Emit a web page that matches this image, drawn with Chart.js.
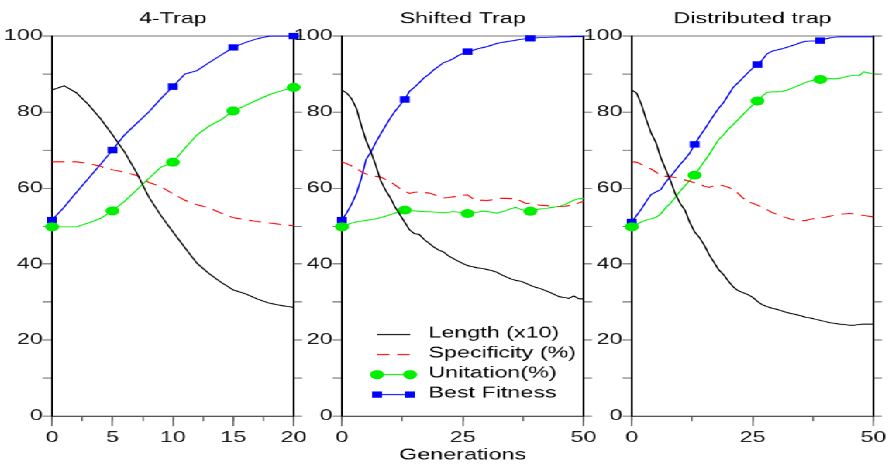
<!DOCTYPE html>
<html>
<head>
<meta charset="utf-8">
<script src="https://cdn.jsdelivr.net/npm/chart.js@4.4.0/dist/chart.umd.min.js"></script>
<style>
  body { margin: 0; background: #fff; }
  /* the original figure is stretched sideways, so the whole page is too */
  #page { position: relative; width: 574px; height: 464px; transform: scaleX(1.55); transform-origin: 0 0; }
  #page canvas { position: absolute; top: 0; }
</style>
</head>
<body>
<div id="page">
  <canvas id="trap4" width="205" height="464" style="left:0px"></canvas>
  <canvas id="shifted" width="205" height="464" style="left:187.1px"></canvas>
  <canvas id="distributed" width="205" height="464" style="left:373.6px"></canvas>
</div>
<script>
var seriesLabels = ['Length (x10)', 'Specificity (%)', 'Unitation(%)', 'Best Fitness'];
var yTicks = [0, 20, 40, 60, 80, 100];

// 4-Trap, 20 generations
var gens4 = [0,1,2,3,4,5,6,7,8,9,10,11,12,13,14,15,16,17,18,19,20];
var len4  = [85.8,86.9,85.1,82,78.3,74,69.5,64,57.7,52.8,48.5,44.3,40.2,37.5,35.2,33.2,32.2,30.8,29.7,29.1,28.6];
var spec4 = [66.9,66.9,66.9,66.5,65.7,64.8,64.2,63.3,61.5,60.4,58.5,56.8,55.6,54.8,53.4,52.2,51.7,51.2,50.8,50.4,50.1];
var unit4 = [49.8,49.8,49.8,50.8,52,54,56.5,59.5,62.5,65.5,66.8,70.5,74,76.3,78,80.3,81.7,83.2,84.6,85.6,86.5];
var best4 = [51.6,55,58.8,62.5,66.2,70,74,77,80,83.5,86.7,90,90.9,93,95,97,98.3,99.3,100,100,100];

// Shifted Trap and Distributed trap, 50 generations
var gens50 = [0,1,2,3,4,5,6,7,8,9,10,11,12,13,14,15,16,17,18,19,20,21,22,23,24,25,
  26,27,28,29,30,31,32,33,34,35,36,37,38,39,40,41,42,43,44,45,46,47,48,49,50];

var lenShift  = [85.8,85,83.5,81,76.5,72.5,69.5,66,62,59.5,57.5,55,53,51,49,48,47.8,46.5,45.5,44.5,43.7,43.2,42.2,41.5,40.8,40.2,
  39.6,39.3,39,38.9,38.6,38.3,37.9,37.2,36.6,36.1,35.7,35.5,35,34.4,33.9,33.6,33.1,32.6,32,31.4,31.2,31,31.6,30.9,30.8];
var specShift = [66.9,66.4,65.8,65.2,64.3,63.7,63.4,63.1,62.9,62.3,61.7,60.8,59.9,59.2,58.6,58.9,59,58.8,58.7,58.3,57.8,57.4,57.5,57.7,57.8,58.1,
  58.2,57.3,56.8,56.8,56.7,56.9,57.1,57.3,57.3,57.2,57.3,56.6,56,55.9,55.7,55.5,55.4,55.3,55.2,55.1,55.2,55.4,55.6,56.1,56.5];
var unitShift = [49.8,50.3,50.8,51.1,51.3,51.5,51.7,51.9,52.2,52.6,53,53.4,53.9,54.2,54.1,54,53.9,53.8,53.8,53.7,53.6,53.5,53.6,53.8,53.7,53.5,
  53.3,53.5,53.6,53.9,53.9,53.6,53.4,53.7,54.1,54.6,54.9,54.4,54.1,53.9,54.2,54.5,54.6,54.8,55,55.1,55.6,56.2,56.8,57.2,57.3];
var bestShift = [51.6,53.5,55.8,58.5,62.5,67.5,69.5,72,74.2,76.3,78.4,80.2,81.8,83.3,85.5,86.5,87.7,89,89.9,91.1,92,93,93.4,94,94.8,95.4,
  95.9,96.2,96.6,96.9,97.2,97.6,98,98.3,98.5,98.7,98.9,99.1,99.3,99.4,99.5,99.6,99.6,99.7,99.7,99.8,99.8,99.8,99.9,99.9,99.9];

var lenDist  = [85.8,85,82,78,74.5,72,68,65,62,58.5,56,54.2,51,48.5,47,45,42.5,40.5,38.5,37.2,35.5,34,33,32.5,32,31.3,
  30.2,29.3,28.8,28.4,28.1,27.7,27.3,27,26.7,26.4,26,25.8,25.5,25.2,24.9,24.6,24.4,24.2,24.1,23.9,23.9,24.1,24.2,24.2,24.2];
var specDist = [66.9,66.8,66.2,65.6,65,64.2,63.4,63.1,63,62.8,62.4,62.1,61.8,61.4,61,60.5,60.2,60.6,60.8,60.6,60.2,59.6,58.6,57.4,56.4,56,
  55.5,55,54.3,53.6,53.1,52.6,52.2,51.8,51.5,51.4,51.5,51.8,52,52.1,52.3,52.6,52.9,53.1,53.2,53.3,53.2,53,52.8,52.6,52.4];
var unitDist = [49.8,50.4,51.1,51.6,51.9,52.3,53.2,54.8,56,57.5,59.2,60.6,62,63.4,65.2,67,68.8,70.8,72.8,74,75.5,76.7,78,79.3,80.6,81.8,
  82.9,84.2,85.2,85.3,85.3,85.4,85.7,86.2,86.7,87.2,87.8,88.2,88.5,88.6,88.9,88.8,88.7,88.9,89.2,89.5,89.7,89.5,90.6,90.3,90];
var bestDist = [51.1,52.8,54.5,56.5,58.3,59,59.6,61.5,63,64.6,66.2,67.6,69.2,71.5,73.5,75.3,77.3,79.2,81,82.5,84.5,86.5,87.7,89,90.3,91.5,
  92.5,93.7,95.3,96,96.3,96.6,97,97.4,97.8,98.3,98.6,98.7,98.7,98.8,99.2,99.5,99.7,99.8,99.8,99.8,99.8,99.8,99.8,99.8,99.8];

Chart.defaults.font.family = '"Liberation Sans", Arial, sans-serif';
Chart.defaults.color = '#000';

var GREEN = '#00ee00';
var BLUE = '#0000ff';

// legend drawn inside the middle panel
var legendInside = {
    id: 'legendInside',
    afterDraw: function (chart, args, opts) {
        var ctx = chart.ctx;
        ctx.save();
        chart.data.datasets.forEach(function (ds, i) {
            var y = opts.y + i * opts.rowH;
            var ly = y + 1.5;
            ctx.strokeStyle = ds.borderColor;
            ctx.lineWidth = ds.borderWidth;
            ctx.setLineDash(ds.borderDash || []);
            ctx.beginPath();
            ctx.moveTo(opts.x1, ly);
            ctx.lineTo(opts.x2, ly);
            ctx.stroke();
            ctx.setLineDash([]);
            ctx.fillStyle = ds.borderColor;
            [opts.x1, opts.x2].forEach(function (px) {
                if (ds.pointStyle === 'circle') {
                    ctx.beginPath();
                    ctx.arc(px, ly, 4.5, 0, Math.PI * 2);
                    ctx.fill();
                } else if (ds.pointStyle === 'rect') {
                    ctx.fillRect(px - 3.2, ly - 3.2, 6.4, 6.4);
                }
            });
            ctx.fillStyle = '#000';
            ctx.font = '15px "Liberation Sans", Arial, sans-serif';
            ctx.textBaseline = 'middle';
            ctx.textAlign = 'left';
            ctx.fillText(ds.label, opts.textX, y);
        });
        ctx.restore();
    }
};

function toPoints(gens, vals) {
    return gens.map(function (g, i) { return { x: g, y: vals[i] }; });
}

function noPad(s) {
    s.paddingLeft = 0;
    s.paddingRight = 0;
}

function makePanel(id, title, gens, series, xMax, majorStep, minorStep, markEvery, isMiddle) {
    var markRadius = function (c) { return c.dataIndex % markEvery === 0 ? 4.5 : 0; };

    var datasets = [
        { label: seriesLabels[0], data: toPoints(gens, series[0]), borderColor: '#000', borderWidth: 1, pointRadius: 0 },
        { label: seriesLabels[1], data: toPoints(gens, series[1]), borderColor: '#ff0000', borderWidth: 1, borderDash: [8, 5], pointRadius: 0 },
        { label: seriesLabels[2], data: toPoints(gens, series[2]), borderColor: GREEN, backgroundColor: GREEN, borderWidth: 1,
          pointStyle: 'circle', pointRadius: markRadius, pointBorderWidth: 0 },
        { label: seriesLabels[3], data: toPoints(gens, series[3]), borderColor: BLUE, backgroundColor: BLUE, borderWidth: 1,
          pointStyle: 'rect', pointRadius: markRadius, pointBorderWidth: 0 }
    ];

    return new Chart(document.getElementById(id), {
        type: 'line',
        data: { datasets: datasets },
        plugins: isMiddle ? [legendInside] : [],
        options: {
            responsive: false,
            animation: false,
            devicePixelRatio: 1.55,
            events: [],
            layout: { padding: 0 },
            elements: { line: { tension: 0 } },
            datasets: { line: { clip: false } },
            plugins: {
                legend: { display: false },
                tooltip: { enabled: false },
                title: {
                    display: true, text: title, fullSize: false, color: '#000',
                    font: { size: 15, weight: 'normal' }, padding: { top: 10, bottom: 8 }
                },
                legendInside: { x1: 56.1, x2: 77.4, textX: 89.2, y: 333, rowH: 20 }
            },
            scales: {
                x: {
                    type: 'linear', position: 'bottom', weight: 1,
                    min: 0, max: xMax,
                    afterFit: function (s) { s.height = 48; noPad(s); },
                    ticks: { stepSize: majorStep, autoSkip: false, maxRotation: 0, padding: 3, color: '#111', font: { size: 15 } },
                    grid: { drawOnChartArea: false, tickLength: 10, tickColor: '#666' },
                    border: { color: '#555', width: 1.3 },
                    title: {
                        display: isMiddle, text: 'Generations', color: '#000',
                        font: { size: 15 }, padding: { top: 0, bottom: 0 }
                    }
                },
                xMinor: {
                    type: 'linear', position: 'bottom', weight: 0,
                    min: 0, max: xMax,
                    afterFit: function (s) { s.height = 0; noPad(s); },
                    ticks: { stepSize: minorStep, display: false },
                    grid: { drawOnChartArea: false, tickLength: 5, tickColor: '#666' },
                    border: { display: false }
                },
                y: {
                    position: 'left', min: 0, max: 100,
                    afterFit: function (s) { s.width = 33.5; },
                    ticks: {
                        stepSize: 10, padding: 0, color: '#111', font: { size: 15 },
                        callback: function (v) { return yTicks.indexOf(v) >= 0 ? v : ''; }
                    },
                    grid: {
                        tickLength: 6, tickColor: '#666',
                        color: function (c) { return c.tick && c.tick.value === 100 ? '#777' : 'rgba(0,0,0,0)'; }
                    },
                    border: { color: '#000', width: 1.3 }
                },
                y2: {
                    position: 'right', min: 0, max: 100,
                    afterFit: function (s) { s.width = 16; },
                    ticks: { stepSize: 10, display: false },
                    grid: { drawOnChartArea: false, tickLength: 5.5, tickColor: '#666' },
                    border: { color: '#000', width: 1.3 }
                }
            }
        }
    });
}

makePanel('trap4', '4-Trap', gens4, [len4, spec4, unit4, best4], 20, 5, 2.5, 5, false);
makePanel('shifted', 'Shifted Trap', gens50, [lenShift, specShift, unitShift, bestShift], 50, 25, 12.5, 13, true);
makePanel('distributed', 'Distributed trap', gens50, [lenDist, specDist, unitDist, bestDist], 50, 25, 12.5, 13, false);
</script>
</body>
</html>
